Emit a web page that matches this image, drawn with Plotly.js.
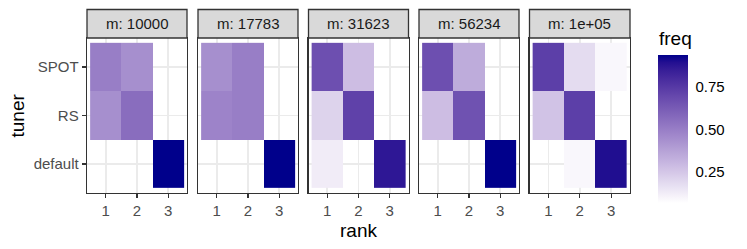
<!DOCTYPE html>
<html>
<head>
<meta charset="utf-8">
<script src="https://cdn.plot.ly/plotly-3.0.1.min.js"></script>
<style>
html,body{margin:0;padding:0;background:#fff;}
#chart{width:747px;height:249px;}
</style>
</head>
<body>
<div id="chart"></div>
<script>
// ---- data ----
const facetLabels = ['m: 10000', 'm: 17783', 'm: 31623', 'm: 56234', 'm: 1e+05'];
const ranks = ['1', '2', '3'];
const tuners = ['default', 'RS', 'SPOT'];
// rows follow tuners order (default, RS, SPOT); columns follow ranks
const freq_m10000 = [[null, null, 0.94], [0.44, 0.56, null], [0.50, 0.44, null]];
const freq_m17783 = [[null, null, 0.94], [0.48, 0.50, null], [0.44, 0.50, null]];
const freq_m31623 = [[0.125, null, 0.87], [0.21, 0.72, null], [0.67, 0.28, null]];
const freq_m56234 = [[null, null, 0.94], [0.28, 0.66, null], [0.67, 0.34, null]];
const freq_m1e05  = [[null, 0.09, 0.90], [0.26, 0.73, null], [0.73, 0.18, 0.09]];
const freqByFacet = [freq_m10000, freq_m17783, freq_m31623, freq_m56234, freq_m1e05];
const freqTicks = [0.25, 0.5, 0.75];
const freqTickText = ['0.25', '0.50', '0.75'];
const freqMin = 0.065, freqMax = 0.94;

// ---- colour scale: white -> darkblue interpolated in Lab (like ggplot) ----
function srgbToLin(c){c/=255;return c<=0.04045?c/12.92:Math.pow((c+0.055)/1.055,2.4);}
function linToSrgb(c){c=c<=0.0031308?12.92*c:1.055*Math.pow(c,1/2.4)-0.055;return Math.max(0,Math.min(255,Math.round(c*255)));}
function rgb2lab(r,g,b){
  const R=srgbToLin(r),G=srgbToLin(g),B=srgbToLin(b);
  let X=(0.4124*R+0.3576*G+0.1805*B)/0.95047;
  let Y=(0.2126*R+0.7152*G+0.0722*B);
  let Z=(0.0193*R+0.1192*G+0.9505*B)/1.08883;
  const f=t=>t>0.008856?Math.cbrt(t):7.787*t+16/116;
  const fx=f(X),fy=f(Y),fz=f(Z);
  return [116*fy-16,500*(fx-fy),200*(fy-fz)];
}
function lab2rgb(L,a,b){
  const fy=(L+16)/116,fx=fy+a/500,fz=fy-b/200;
  const fi=t=>t>0.206893?t*t*t:(t-16/116)/7.787;
  const X=fi(fx)*0.95047,Y=fi(fy),Z=fi(fz)*1.08883;
  const R=3.2406*X-1.5372*Y-0.4986*Z;
  const G=-0.9689*X+1.8758*Y+0.0415*Z;
  const B=0.0557*X-0.2040*Y+1.0570*Z;
  return 'rgb('+linToSrgb(R)+','+linToSrgb(G)+','+linToSrgb(B)+')';
}
const lo=rgb2lab(255,255,255), hi=rgb2lab(0,0,139);
const cscale=[];
for(let i=0;i<=20;i++){
  const t=i/20;
  cscale.push([t, lab2rgb(lo[0]+(hi[0]-lo[0])*t, lo[1]+(hi[1]-lo[1])*t, lo[2]+(hi[2]-lo[2])*t)]);
}

// ---- layout geometry ----
const W=747,H=249;
const panelX=[[87,187],[198,298],[308.5,408.5],[419,519],[529.5,630]];
const panelTop=38, panelBot=193, stripTop=9.5;
const yDom=[(H-panelBot)/H,(H-panelTop)/H];
const FONT='Liberation Sans, Arial, Helvetica, sans-serif';
const cbX0=658, cbThick=30, cbTop=55, cbLen=148;

const traces=[];
const layout={
  width:W,height:H,margin:{l:0,r:0,t:0,b:0},
  paper_bgcolor:'#ffffff',plot_bgcolor:'#ffffff',
  showlegend:false,font:{family:FONT},
  shapes:[],annotations:[]
};

for(let i=0;i<5;i++){
  const k=i===0?'':String(i+1);
  traces.push({
    type:'heatmap',x:ranks,y:tuners,z:freqByFacet[i],
    xaxis:'x'+k,yaxis:'y'+k,
    colorscale:cscale,zmin:freqMin,zmax:freqMax,zauto:false,
    xgap:0,ygap:0,hoverinfo:'skip',
    showscale:i===0,
    colorbar:{
      x:cbX0/W,xanchor:'left',xpad:0,ypad:0,
      y:1-(cbTop+cbLen/2)/H,yanchor:'middle',
      len:cbLen/H,lenmode:'fraction',
      thickness:cbThick,thicknessmode:'pixels',
      outlinewidth:0,
      ticks:'outside',ticklen:5,tickwidth:1,tickcolor:'rgba(0,0,0,0)',
      tickmode:'array',tickvals:freqTicks,ticktext:freqTickText,
      tickfont:{family:FONT,size:15,color:'#000000'},
      title:{text:''}
    }
  });
  const common={
    type:'category',range:[-0.6,2.6],
    showgrid:true,gridcolor:'#ebebeb',gridwidth:1.6,
    showline:true,mirror:true,linecolor:'#333333',linewidth:1.3,
    zeroline:false,fixedrange:true,
    tickfont:{family:FONT,size:15,color:'#4d4d4d'},
    tickcolor:'#333333',tickwidth:1.2,ticklen:4
  };
  layout['xaxis'+k]=Object.assign({},common,{
    domain:[panelX[i][0]/W,panelX[i][1]/W],anchor:'y'+k,
    categoryorder:'array',categoryarray:ranks,ticks:'outside'
  });
  layout['yaxis'+k]=Object.assign({},common,{
    domain:yDom,anchor:'x'+k,
    categoryorder:'array',categoryarray:tuners,
    ticks:i===0?'outside':'',showticklabels:i===0
  });
  layout.shapes.push({
    type:'rect',xref:'paper',yref:'paper',
    x0:panelX[i][0]/W,x1:panelX[i][1]/W,
    y0:(H-panelTop)/H,y1:(H-stripTop)/H,
    fillcolor:'#d9d9d9',line:{color:'#333333',width:1.3},layer:'above'
  });
  layout.annotations.push({
    xref:'paper',yref:'paper',
    x:(panelX[i][0]+panelX[i][1])/2/W,y:1-24/H,
    xanchor:'center',yanchor:'middle',showarrow:false,
    text:facetLabels[i],font:{family:FONT,size:15,color:'#1a1a1a'}
  });
}
// white tick marks on both sides of the colour bar (ggplot style)
freqTicks.forEach(v=>{
  const py=cbTop+(freqMax-v)/(freqMax-freqMin)*cbLen;
  const yy=1-py/H;
  [[cbX0,cbX0+6],[cbX0+cbThick-6,cbX0+cbThick]].forEach(s=>{
    layout.shapes.push({type:'line',xref:'paper',yref:'paper',x0:s[0]/W,x1:s[1]/W,y0:yy,y1:yy,
      line:{color:'#ffffff',width:1},layer:'above'});
  });
});
layout.annotations.push({
  xref:'paper',yref:'paper',x:358.5/W,y:1-230/H,xanchor:'center',yanchor:'middle',
  showarrow:false,text:'rank',font:{family:FONT,size:19,color:'#000000'}
});
layout.annotations.push({
  xref:'paper',yref:'paper',x:17/W,y:1-115.5/H,xanchor:'center',yanchor:'middle',
  showarrow:false,text:'tuner',textangle:-90,font:{family:FONT,size:19,color:'#000000'}
});
layout.annotations.push({
  xref:'paper',yref:'paper',x:657/W,y:1-39/H,xanchor:'left',yanchor:'middle',
  showarrow:false,text:'freq',font:{family:FONT,size:19,color:'#000000'}
});

Plotly.newPlot('chart',traces,layout,{staticPlot:true,displayModeBar:false});
</script>
</body>
</html>
